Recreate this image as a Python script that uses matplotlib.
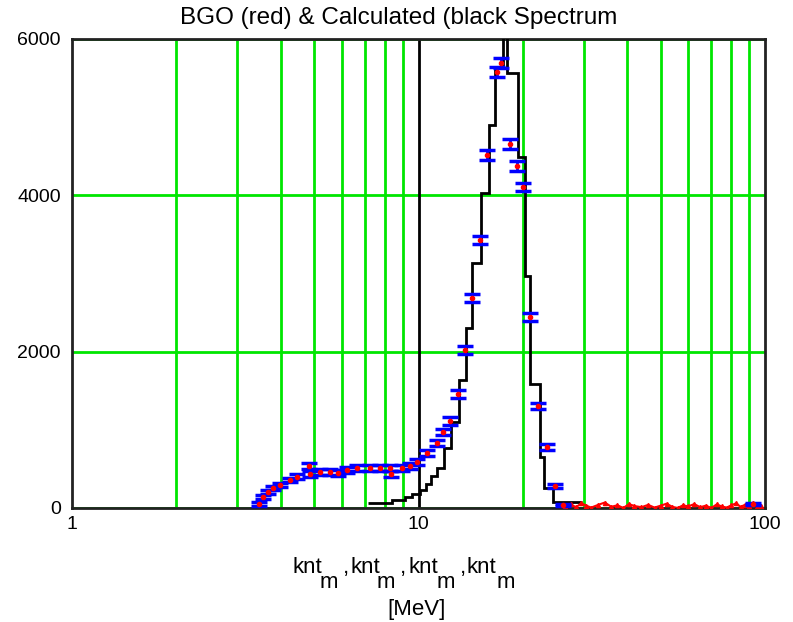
import numpy as np
import matplotlib
matplotlib.use("Agg")
from matplotlib import pyplot as plt
from matplotlib.ticker import LogLocator, NullFormatter, FixedLocator

plt.rcParams['font.family'] = ['Liberation Sans', 'DejaVu Sans']

# calculated spectrum (black), bin edges in MeV
calc_edges = [7.15, 8.38, 9.14, 9.58, 10.1, 10.51, 10.87, 11.31, 11.85, 12.41,
              13.09, 13.71, 14.27, 15.15, 15.98, 16.63, 17.54, 18.0, 19.37,
              20.29, 20.98, 22.42, 23.02, 24.44, 25.95, 29.65]
calc_counts = [64, 102, 141, 179, 230, 307, 409, 512, 768, 1100,
               1637, 2303, 3134, 4030, 4900, 5642, 6400, 5565, 4490,
               2968, 1586, 652, 256, 77, 77]

# measured BGO points (blue error bars with red centres)
bgo_e = [3.47, 3.56, 3.68, 3.80, 3.98, 4.26, 4.46, 4.83, 4.86, 5.20, 5.55,
         5.86, 6.22, 6.65, 7.25, 7.74, 8.28, 8.33, 8.96, 9.45, 9.90, 10.58,
         11.31, 11.77, 12.33, 13.0, 13.62, 14.27, 15.05, 15.77, 16.85, 17.3,
         18.37, 19.24, 20.03, 20.98, 22.13, 23.49, 24.77, 26.12, 92.3]
bgo_counts = [51, 141, 205, 256, 294, 358, 397, 537, 435, 461, 461,
              448, 486, 512, 512, 512, 512, 435, 512, 537, 588, 704,
              832, 972, 1113, 1458, 2021, 2687, 3429, 4516, 5578, 5693,
              4657, 4375, 4107, 2443, 1305, 780, 281, 38, 51]
bgo_err = [20, 22, 25, 26, 28, 30, 32, 35, 33, 34, 34,
           34, 35, 36, 36, 36, 36, 33, 36, 37, 38, 40,
           42, 44, 45, 48, 50, 52, 50, 60, 62, 62,
           60, 58, 56, 50, 42, 38, 30, 18, 18]

# red BGO tail above the peak
tail_e = [26.5, 27.5, 28.5, 29.5, 30.5, 31.5, 33, 34.5, 36, 37.5, 39, 40.5,
          42, 44, 46, 48, 50, 52, 54, 56, 58, 60, 62.5, 65, 67.5, 70, 72.5,
          75, 77.5, 80, 82.5, 85, 87.5, 90, 92.5, 95, 97.5]
tail_counts = [20, 45, 10, 60, 30, 5, 40, 70, 15, 35, 0, 50,
               25, 10, 40, 5, 30, 55, 15, 0, 35, 20, 50, 10, 30, 0, 45,
               20, 5, 35, 60, 15, 40, 25, 70, 10, 30]

y_ticks = [0, 2000, 4000, 6000]
x_ticks = [1, 10, 100]

green = '#00e600'
W, H = 793, 622

fig = plt.figure(figsize=(W / 100, H / 100), dpi=100)
ax = fig.add_axes([0.0908, 0.1833, 0.8739, 0.754])

ax.set_xscale('log')
ax.set_xlim(1, 100)
ax.set_ylim(0, 6000)

ax.xaxis.set_major_locator(FixedLocator(x_ticks))
ax.set_xticklabels([str(t) for t in x_ticks])
ax.xaxis.set_minor_locator(LogLocator(base=10, subs=np.arange(2, 10)))
ax.xaxis.set_minor_formatter(NullFormatter())
ax.set_yticks(y_ticks)
ax.set_yticklabels([str(t) for t in y_ticks])
ax.tick_params(which='both', length=0, labelsize=14)
ax.tick_params(axis='x', pad=6)
ax.tick_params(axis='y', pad=8)

ax.xaxis.grid(True, which='minor', color=green, lw=2)
ax.yaxis.grid(True, which='major', color=green, lw=2)
ax.set_axisbelow(True)
ax.axvline(10, color='black', lw=2, zorder=1.5)

for s in ax.spines.values():
    s.set_linewidth(2)
    s.set_color('#222222')

ax.stairs(calc_counts, calc_edges, baseline=None, color='black', lw=2, zorder=3)

ax.plot(tail_e, tail_counts, color='red', lw=1.5, marker='^', ms=3, zorder=4)
ax.errorbar(bgo_e, bgo_counts, yerr=bgo_err, fmt='none', ecolor='#0000ff',
            elinewidth=2, capsize=6, capthick=2.5, zorder=5)
ax.plot(bgo_e, bgo_counts, 'o', color='red', ms=3, zorder=6)

fig.text(0.503, 1 - 18 / H, 'BGO (red) & Calculated (black Spectrum',
         ha='center', va='center', fontsize=17.5)

# x label pieces: knt with full size subscript m
for left in [292, 350, 408, 467]:
    fig.text(left / W, (H - 573) / H, 'knt', ha='left', va='baseline', fontsize=16)
for left in [320, 377, 437, 497]:
    fig.text(left / W, (H - 588) / H, 'm', ha='left', va='baseline', fontsize=16)
for left in [343, 400, 460]:
    fig.text(left / W, (H - 573) / H, ',', ha='left', va='baseline', fontsize=16)
fig.text(417 / W, 1 - 610 / H, '[MeV]', ha='center', va='center', fontsize=16)

fig.savefig('out.png', dpi=100)
